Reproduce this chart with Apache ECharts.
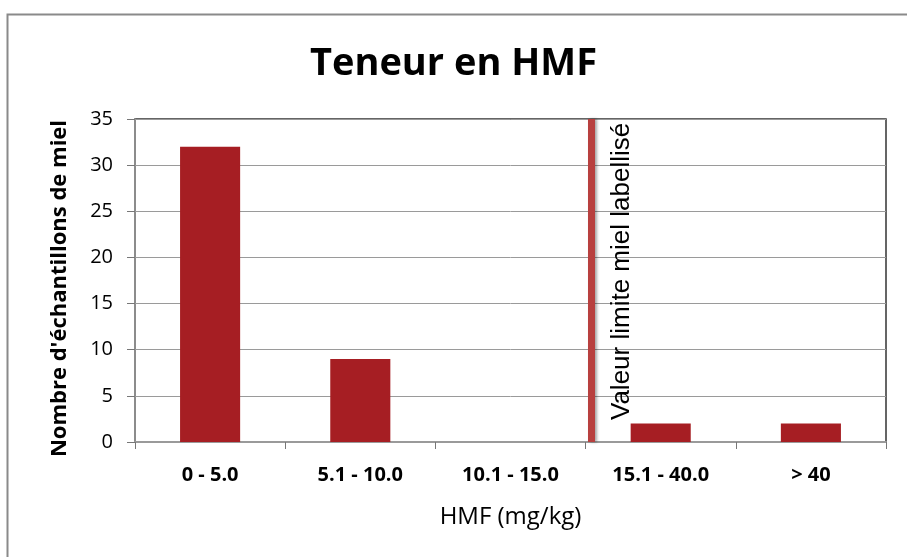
<!DOCTYPE html>
<html><head><meta charset="utf-8">
<script src="https://cdn.jsdelivr.net/npm/echarts@6/dist/echarts.min.js"></script>
<style>html,body{margin:0;padding:0;background:#fff}#c{width:907px;height:557px}</style>
</head><body><div id="c"></div>
<script>
const categories = ['0 - 5.0', '5.1 - 10.0', '10.1 - 15.0', '15.1 - 40.0', '> 40'];
const counts = [32, 9, 0, 2, 2];
const limitPosition = 3.04; // position of the limit line, in category units
const limitLabel = 'Valeur limite miel labellisé';
const yTicks = { min: 0, max: 35, interval: 5 };

const chart = echarts.init(document.getElementById('c'));
chart.setOption({
  animation: false,
  title: {
    text: 'Teneur en HMF', left: 'center', top: 40,
    textStyle: { fontFamily: 'Open Sans', fontWeight: 'bold', fontSize: 38, color: '#000' }
  },
  graphic: [{
    type: 'rect', left: 5, top: 12, shape: { width: 920, height: 560 },
    style: { fill: 'none', stroke: '#8a8a8a', lineWidth: 2 }, silent: true, z: -1
  }],
  grid: { left: 135, right: 21, top: 119, bottom: 115, show: true, borderColor: '#333', borderWidth: 1.5 },
  xAxis: [{
    type: 'category', data: categories,
    axisLine: { lineStyle: { color: '#9a9a9a', width: 2 } },
    axisTick: { show: true, length: 7, lineStyle: { color: '#777' } },
    axisLabel: { margin: 23, fontFamily: 'Open Sans', fontWeight: 'bold', fontSize: 20, color: '#000' },
    name: 'HMF (mg/kg)', nameLocation: 'middle', nameGap: 63,
    nameTextStyle: { fontFamily: 'Open Sans', fontSize: 24, color: '#000' }
  }, {
    type: 'value', min: 0, max: 5, show: false
  }],
  yAxis: {
    type: 'value', min: yTicks.min, max: yTicks.max, interval: yTicks.interval,
    axisLine: { show: true, lineStyle: { color: '#9a9a9a', width: 1.5 } },
    axisTick: { show: true, length: 8, lineStyle: { color: '#777' } },
    splitLine: { lineStyle: { color: '#9a9a9a', width: 1 } },
    axisLabel: { margin: 22, fontFamily: 'Open Sans', fontSize: 20, color: '#000' },
    name: "Nombre d'échantillons de miel", nameLocation: 'middle', nameGap: 64,
    nameTextStyle: { fontFamily: 'Open Sans', fontWeight: 'bold', fontSize: 22, color: '#000', padding: [0, 16, 0, 0] }
  },
  series: [{
    type: 'bar', data: counts, barWidth: '40%',
    itemStyle: { color: '#A61E23' }
  }, {
    type: 'line', xAxisIndex: 1, data: [], silent: true,
    markLine: {
      symbol: 'none', silent: true,
      lineStyle: { color: '#B8403F', width: 7, type: 'solid', shadowBlur: 3, shadowColor: 'rgba(0,0,0,0.35)', shadowOffsetX: 2 },
      label: {
        show: true, formatter: limitLabel, position: 'insideStartBottom', distance: [22, 17],
        fontFamily: 'Liberation Sans', fontSize: 26, color: '#000'
      },
      data: [{ xAxis: limitPosition }]
    }
  }]
});
</script></body></html>
